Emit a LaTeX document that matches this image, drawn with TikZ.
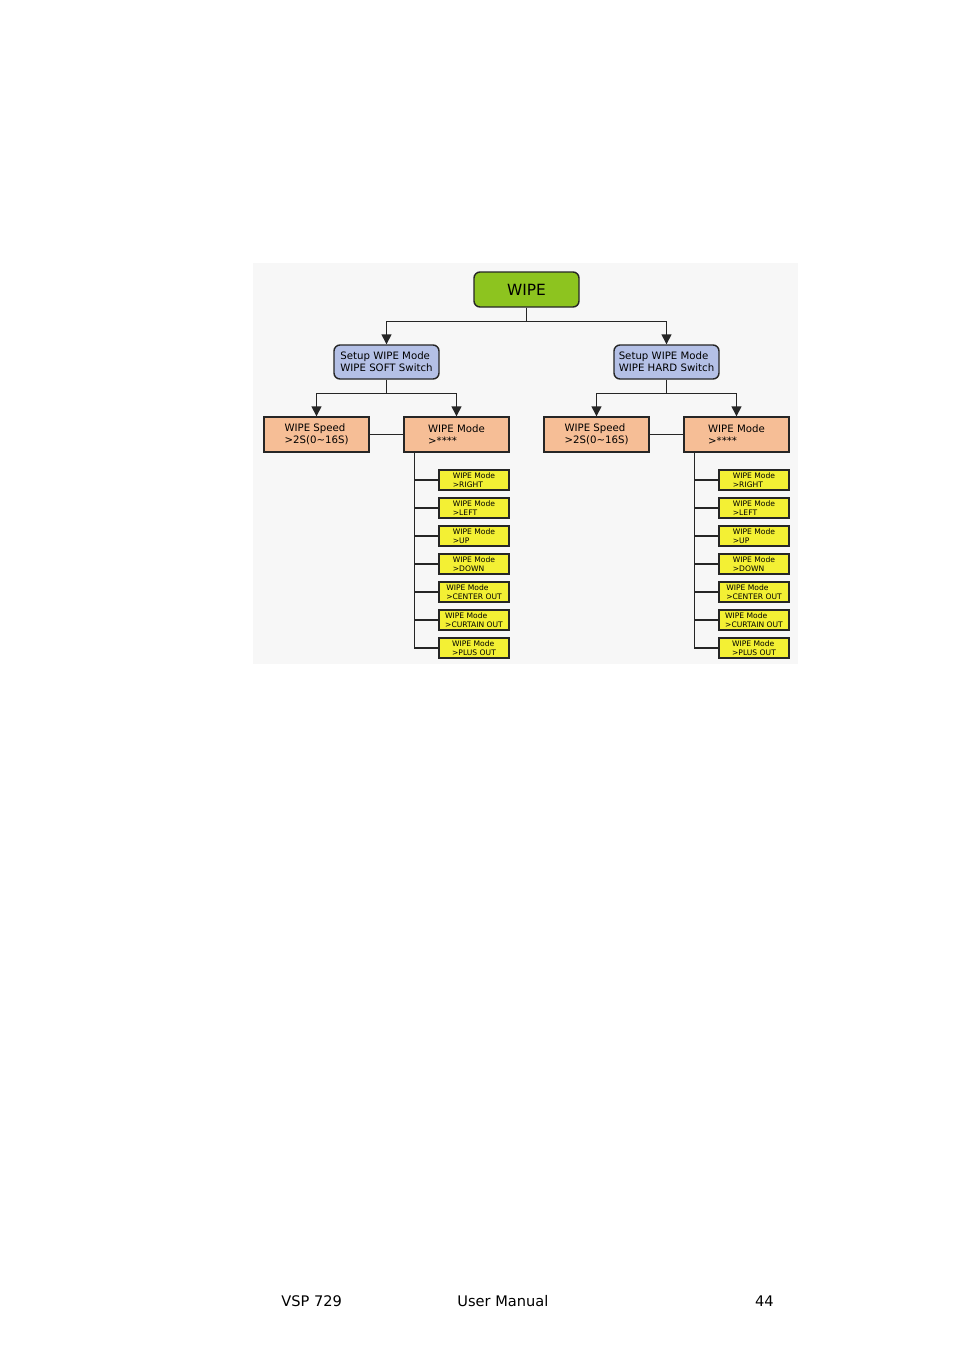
\documentclass[tikz,border=0pt]{standalone}
\usepackage{fontspec}
\setmainfont{DejaVu Sans}
\usetikzlibrary{arrows.meta,positioning}

\definecolor{wipegreen}{RGB}{141,196,31}
\definecolor{setupblue}{RGB}{180,192,230}
\definecolor{menuorange}{RGB}{246,190,150}
\definecolor{modeyellow}{RGB}{243,240,52}
\definecolor{panelgray}{RGB}{247,247,247}

\tikzset{
	box/.style={draw=black!85, line width=0.7pt, inner sep=0pt, align=left},
	topbox/.style={box, fill=wipegreen, rounded corners=3pt, minimum width=52.5pt, minimum height=17.5pt, font=\fontsize{7.7}{9}\selectfont},
	setupbox/.style={box, fill=setupblue, rounded corners=3pt, minimum width=52.5pt, minimum height=17pt, font=\fontsize{5.1}{6}\selectfont},
	menubox/.style={box, fill=menuorange, minimum width=52.5pt, minimum height=17.5pt, font=\fontsize{5.1}{6}\selectfont},
	modebox/.style={box, fill=modeyellow, minimum width=35pt, minimum height=10pt, font=\fontsize{3.8}{4.5}\selectfont},
	link/.style={draw=black!85, line width=0.7pt},
	arrow/.style={link, -{Triangle[width=5pt,length=5pt]}},
	footer/.style={font=\fontsize{7.3}{9}\selectfont, inner sep=0pt},
}

\begin{document}
\begin{tikzpicture}[x=0.5pt, y=-0.5pt]
		\useasboundingbox (0,0) rectangle (954,1350);

		% Panel
		\fill[panelgray] (253,263) rectangle (798,664);

		% Top box
		\node[topbox] (wipe) at (526.5,289.5) {WIPE};

		% Two sides
		\foreach \side/\kind/\dx in {soft/SOFT/0, hard/HARD/280} {
				\node[setupbox] (\side) at ({386.5+\dx},362) {Setup WIPE Mode\\WIPE \kind{} Switch};
				\node[menubox] (\side speed) at ({316.5+\dx},434.5) {WIPE Speed\\>2S(0\textasciitilde16S)};
				\node[menubox] (\side mode) at ({456.5+\dx},434.5) {WIPE Mode\\>****};

				\draw[arrow] (wipe.south) -- ++(0,14) -| (\side.north);
				\draw[arrow] (\side.south) -- ++(0,14) -| (\side speed.north);
				\draw[arrow] (\side.south) -- ++(0,14) -| (\side mode.north);
				\draw[link] (\side speed.east) -- (\side mode.west);

				% Mode list
				\coordinate (\side trunk) at ([xshift=5.5pt]\side mode.south west);
				\foreach \m [count=\i] in {RIGHT,LEFT,UP,DOWN,CENTER OUT,CURTAIN OUT,PLUS OUT} {
						\node[modebox] (\side\i) at ({474+\dx},{452+28*\i}) {WIPE Mode\\>\m};
						\draw[link] (\side trunk |- \side\i.west) -- (\side\i.west);
					}
				\draw[link] (\side trunk) -- (\side trunk |- \side7.west);
			}

		% Footer
		\node[footer, anchor=base west] (docname) at (281,1306) {VSP 729};
		\node[footer, anchor=base west] (doctype) at (457,1306) {User Manual};
		\node[footer, anchor=base east] (pagenum) at (774,1306) {44};
	\end{tikzpicture}
\end{document}
